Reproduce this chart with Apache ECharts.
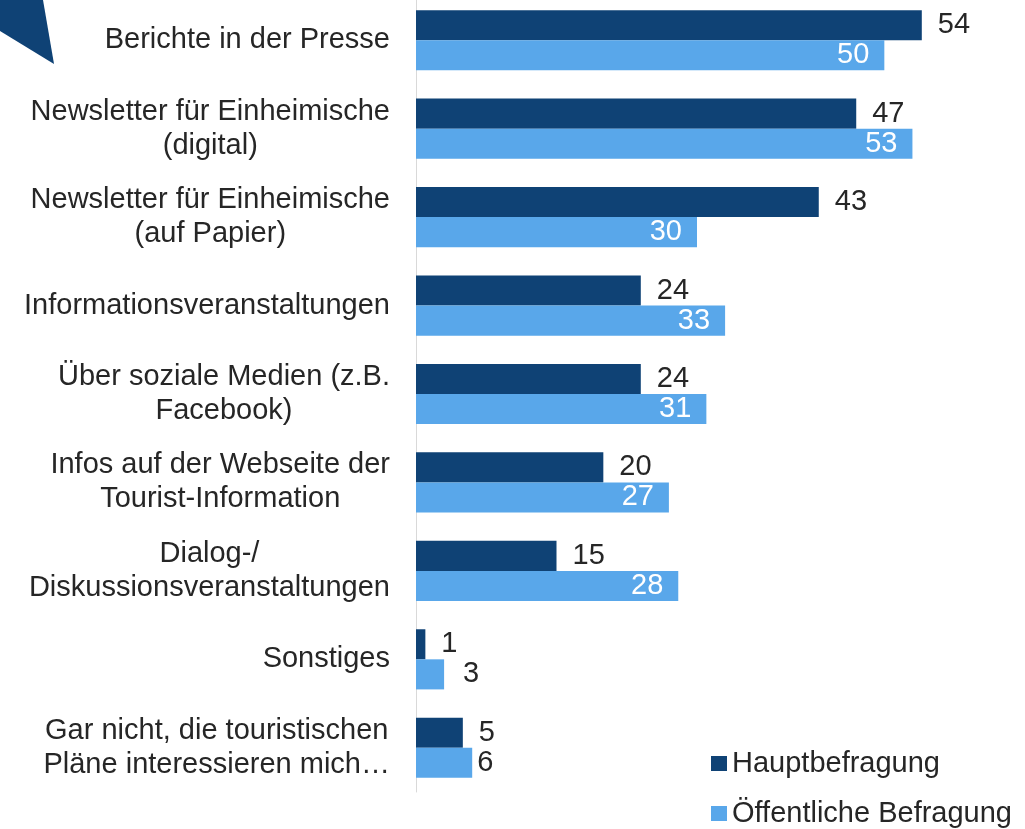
<!DOCTYPE html>
<html>
<head>
<meta charset="utf-8">
<script src="https://cdn.jsdelivr.net/npm/echarts@6/dist/echarts.min.js"></script>
<style>
  html, body { margin: 0; padding: 0; background: #fff; }
  #chart { width: 1025px; height: 829px; }
</style>
</head>
<body>
<div id="chart"></div>
<script>
// Channels through which respondents learned about the tourism plans (%)
const categories = [
  'Berichte in der Presse',
  'Newsletter für Einheimische\n(digital)',
  'Newsletter für Einheimische\n(auf Papier)',
  'Informationsveranstaltungen',
  'Über soziale Medien (z.B.\nFacebook)',
  'Infos auf der Webseite der\nTourist-Information',
  'Dialog-/\nDiskussionsveranstaltungen',
  'Sonstiges',
  'Gar nicht, die touristischen\nPläne interessieren mich…'
];
const seriesNames = ['Hauptbefragung', 'Öffentliche Befragung'];
const hauptbefragung = [54, 47, 43, 24, 24, 20, 15, 1, 5];
const oeffentlicheBefragung = [50, 53, 30, 33, 31, 27, 28, 3, 6];

const FONT = '"Liberation Sans", Arial, Helvetica, sans-serif';
const TEXT = '#262626';
const DARK = '#0f4275';
const LIGHT = '#59a7ea';

// Light bars carry white labels inside their end; bars too short for that get a dark label outside.
function lightData(values) {
  return values.map(v => v >= 10 ? v : {
    value: v,
    label: { position: 'right', distance: v < 5 ? 19 : 5, color: TEXT }
  });
}

const chart = echarts.init(document.getElementById('chart'), null, { renderer: 'canvas' });

chart.setOption({
  animation: false,
  backgroundColor: '#ffffff',
  grid: {
    left: 416, width: 562, top: -4, height: 796,
    containLabel: false, outerBoundsMode: 'none'
  },
  xAxis: {
    type: 'value', min: 0, max: 60,
    show: false, splitLine: { show: false }
  },
  yAxis: {
    type: 'category',
    inverse: true,
    data: categories,
    axisTick: { show: false },
    axisLine: { show: true, lineStyle: { color: '#d9d9d9', width: 1 } },
    axisLabel: {
      margin: 26,
      formatter: v => v.split('\n').map(l => '{c|' + l + '}').join('\n'),
      rich: {
        c: { align: 'center', fontSize: 29, lineHeight: 34, color: TEXT, fontFamily: FONT }
      }
    }
  },
  legend: {
    orient: 'vertical',
    left: 711, top: 749,
    padding: 0,
    itemWidth: 16, itemHeight: 15, itemGap: 21,
    icon: 'rect',
    textStyle: { fontSize: 29, color: TEXT, fontFamily: FONT },
    data: seriesNames
  },
  series: [
    {
      name: seriesNames[0], type: 'bar',
      data: hauptbefragung,
      barGap: '0%', barCategoryGap: '32%',
      itemStyle: { color: DARK },
      label: { show: true, position: 'right', distance: 16, fontSize: 29, color: TEXT, fontFamily: FONT }
    },
    {
      name: seriesNames[1], type: 'bar',
      data: lightData(oeffentlicheBefragung),
      barGap: '0%', barCategoryGap: '32%',
      itemStyle: { color: LIGHT },
      label: { show: true, position: 'insideRight', distance: 15, fontSize: 29, color: '#ffffff', fontFamily: FONT }
    }
  ],
  graphic: [
    {
      type: 'polygon',
      shape: { points: [[0, 0], [43, 0], [54, 64], [0, 31]] },
      style: { fill: DARK }
    }
  ]
});
</script>
</body>
</html>
